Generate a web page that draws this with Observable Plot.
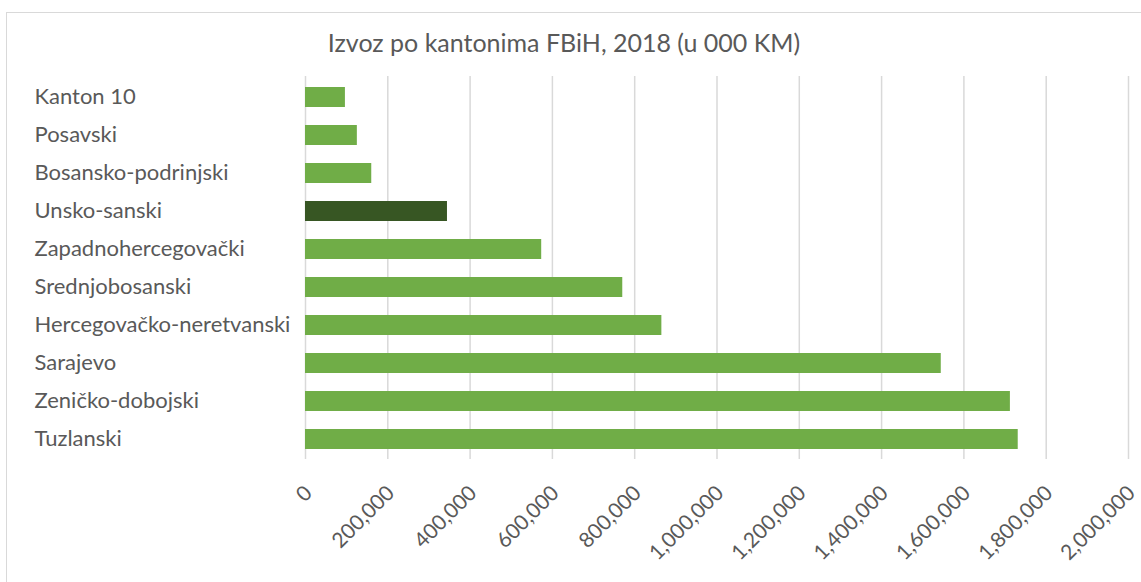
<!DOCTYPE html>
<html>
<head>
<meta charset="utf-8">
<script src="https://cdn.jsdelivr.net/npm/d3@7"></script>
<script src="https://cdn.jsdelivr.net/npm/@observablehq/plot@0.6"></script>
<style>
  html, body { margin: 0; padding: 0; background: white; }
  #wrap { position: relative; width: 1141px; height: 582px; overflow: hidden; }
  #border { position: absolute; left: 6px; top: 12px; width: 2000px; height: 2000px; border: 1.5px solid #d9d9d9; pointer-events: none; }
</style>
</head>
<body>
<div id="wrap"><div id="border"></div></div>
<script>
const title = "Izvoz po kantonima FBiH, 2018 (u 000 KM)";
const categories = ["Kanton 10", "Posavski", "Bosansko-podrinjski", "Unsko-sanski", "Zapadnohercegovački", "Srednjobosanski", "Hercegovačko-neretvanski", "Sarajevo", "Zeničko-dobojski", "Tuzlanski"];
const values = [97000, 126000, 161000, 345000, 574000, 771000, 866000, 1545000, 1713000, 1732000];
const highlighted = ["Unsko-sanski"];
const xTicks = [0, 200000, 400000, 600000, 800000, 1000000, 1200000, 1400000, 1600000, 1800000, 2000000];

const data = categories.map((c, i) => ({category: c, value: values[i], hi: highlighted.includes(c)}));

const textColor = "#595959";
const chart = Plot.plot({
  width: 1141,
  height: 582,
  marginLeft: 305,
  marginRight: 13,
  marginTop: 76,
  marginBottom: 123,
  style: {fontFamily: "Lato, sans-serif", color: textColor, background: "transparent"},
  x: {domain: [0, 2000000], axis: null},
  y: {domain: categories, paddingInner: 0.48, paddingOuter: 0.24, axis: null},
  marks: [
    Plot.gridX(xTicks, {stroke: "#d9d9d9", strokeOpacity: 1, strokeWidth: 1.5}),
    Plot.barX(data, {y: "category", x: "value", fill: d => d.hi ? "#375623" : "#70ad47"}),
    Plot.axisX(xTicks, {tickRotate: -45, tickSize: 0, tickPadding: 30, dx: 3, tickFormat: d3.format(","), fontSize: 21, fill: textColor, label: null}),
    Plot.text(categories, {y: d => d, frameAnchor: "left", dx: -271, dy: -1, textAnchor: "start", fontSize: 22, fill: textColor}),
    Plot.text([title], {frameAnchor: "top", dx: -153, dy: -42, fontSize: 25, fill: textColor, textAnchor: "middle"})
  ]
});
chart.style.position = "absolute";
chart.style.left = "0";
chart.style.top = "0";
document.getElementById("wrap").insertBefore(chart, document.getElementById("border"));
</script>
</body>
</html>
